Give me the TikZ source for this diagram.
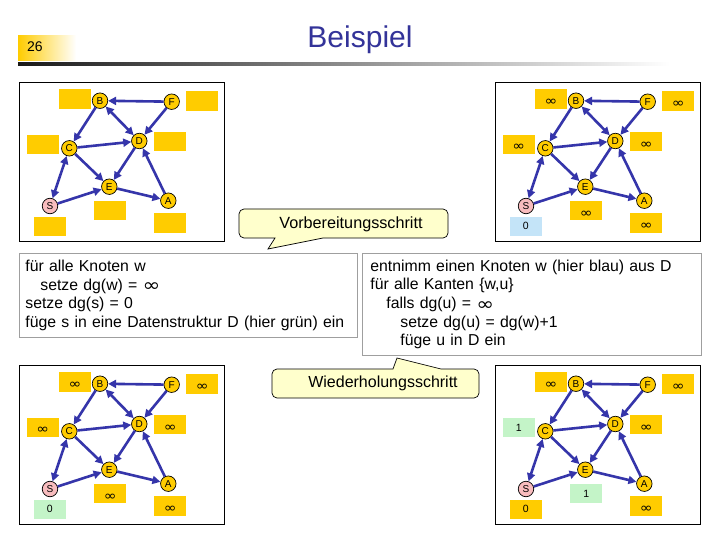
\documentclass[tikz,border=0pt]{standalone}
\usepackage{fontspec}
\usepackage{graphicx}
\setmainfont{Liberation Sans}
\newfontfamily\djv{DejaVu Sans}
\newcommand\infsym{\raisebox{-0.1em}{\scalebox{1.35}[1.15]{\djv ∞}}}
\newcommand\binf{\raisebox{-0.27em}{\scalebox{1.45}[1.25]{\djv ∞}}}
\usetikzlibrary{arrows.meta}
\definecolor{gold}{HTML}{FFCC00}
\definecolor{pinkS}{HTML}{F8BCBE}
\definecolor{lblue}{HTML}{C4E4F8}
\definecolor{lgreen}{HTML}{C4F4C8}
\definecolor{arrblue}{HTML}{3535AA}
\definecolor{titleblue}{HTML}{333399}
\definecolor{callfill}{HTML}{FFFFCC}
\tikzset{
  vnode/.style={circle, draw=black, line width=0.7pt, fill=gold, minimum size=15.5pt, inner sep=0pt, font=\fontsize{10}{10}\selectfont},
  snode/.style={vnode, fill=pinkS},
  vbox/.style={rectangle, fill=gold, minimum width=32pt, minimum height=19.5pt, inner sep=0pt, text height=7pt, text depth=0pt, font=\fontsize{10.5}{10.5}\selectfont},
  edge/.style={draw=arrblue, line width=2.6pt, -{Triangle[length=8pt,width=8pt]}},
  bedge/.style={draw=arrblue, line width=2.6pt, {Triangle[length=8pt,width=8pt]}-{Triangle[length=8pt,width=8pt]}},
  panelframe/.style={draw=black, line width=0.8pt},
  textbox/.style={draw=gray!75, line width=0.8pt, align=left, font=\fontsize{15.8}{18.6}\selectfont, inner ysep=0pt},
  callout/.style={draw=black, line width=0.7pt, fill=callfill},
}
\newcommand\graphpanel[3]{%
\begin{scope}[shift={(#2,#3)}]
  \draw[panelframe] (19,82) rectangle (224,241);
  \node[vnode] (#1B) at (100,100.7) {B};
  \node[vnode] (#1F) at (171.7,101.7) {F};
  \node[vnode] (#1D) at (139.3,141) {D};
  \node[vnode] (#1C) at (69.3,148.3) {C};
  \node[vnode] (#1E) at (109.3,186.7) {E};
  \node[vnode] (#1A) at (168.3,200.7) {A};
  \node[snode] (#1S) at (50,206) {S};
  \draw[edge] (#1F) -- (#1B);
  \draw[bedge] (#1B) -- (#1D);
  \draw[edge] (#1F) -- (#1D);
  \draw[edge] (#1B) -- (#1C);
  \draw[edge] (#1C) -- (#1D);
  \draw[edge] (#1C) -- (#1E);
  \draw[edge] (#1D) -- (#1E);
  \draw[edge] (#1A) -- (#1D);
  \draw[edge] (#1E) -- (#1A);
  \draw[edge] (#1S) -- (#1E);
  \draw[bedge] (#1C) -- (#1S);
\end{scope}}
\begin{document}
\begin{tikzpicture}[x=1pt,y=-1pt]
\useasboundingbox[fill=white] (0,0) rectangle (720,540);
% header
\shade[left color=gold, right color=white] (18,36) rectangle (76,61);
\node[anchor=center, font=\fontsize{14}{14}\selectfont] (num) at (35,47) {26};
\shade[left color=black!90, right color=white] (18,62.5) rectangle (670,66);
\node[font=\fontsize{30}{30}\selectfont, text=titleblue] (title) at (360,40) {Beispiel};

% panels
\graphpanel{tl}{0}{0}
\graphpanel{tr}{476}{0}
\graphpanel{bl}{0}{283}
\graphpanel{br}{476}{283}

% boxes top-left
\begin{scope}
  \node[vbox] (tlbB) at (75,99.2) {};
  \node[vbox] (tlbF) at (202.3,101.2) {};
  \node[vbox] (tlbC) at (42.8,144.5) {};
  \node[vbox] (tlbD) at (170.3,141.7) {};
  \node[vbox] (tlbE) at (110.3,210.7) {};
  \node[vbox] (tlbS) at (49.8,226.3) {};
  \node[vbox] (tlbA) at (170.3,223) {};
\end{scope}
% boxes top-right
\begin{scope}[shift={(476,0)}]
  \node[vbox] (trbB) at (75,99.2) {\binf};
  \node[vbox] (trbF) at (202.3,101.2) {\binf};
  \node[vbox] (trbC) at (42.8,144.5) {\binf};
  \node[vbox] (trbD) at (170.3,141.7) {\binf};
  \node[vbox] (trbE) at (110.3,210.7) {\binf};
  \node[vbox, fill=lblue] (trbS) at (49.8,226.3) {0};
  \node[vbox] (trbA) at (170.3,223) {\binf};
\end{scope}
% boxes bottom-left
\begin{scope}[shift={(0,283)}]
  \node[vbox] (blbB) at (75,99.2) {\binf};
  \node[vbox] (blbF) at (202.3,101.2) {\binf};
  \node[vbox] (blbC) at (42.8,144.5) {\binf};
  \node[vbox] (blbD) at (170.3,141.7) {\binf};
  \node[vbox] (blbE) at (110.3,210.7) {\binf};
  \node[vbox, fill=lgreen] (blbS) at (49.8,226.3) {0};
  \node[vbox] (blbA) at (170.3,223) {\binf};
\end{scope}
% boxes bottom-right
\begin{scope}[shift={(476,283)}]
  \node[vbox] (brbB) at (75,99.2) {\binf};
  \node[vbox] (brbF) at (202.3,101.2) {\binf};
  \node[vbox, fill=lgreen] (brbC) at (42.8,144.5) {1};
  \node[vbox] (brbD) at (170.3,141.7) {\binf};
  \node[vbox, fill=lgreen] (brbE) at (110.3,210.7) {1};
  \node[vbox] (brbS) at (49.8,226.3) {0};
  \node[vbox] (brbA) at (170.3,223) {\binf};
\end{scope}

% text boxes
\node[textbox, anchor=north west, minimum width=338pt, minimum height=84pt, text width=326pt, inner xsep=6pt] (init) at (19,253)
  {für alle Knoten w\\\hspace*{15pt}setze dg(w) = \infsym\\setze dg(s) = 0\\füge s in eine Datenstruktur D (hier grün) ein};
\node[textbox, anchor=north west, minimum width=339pt, minimum height=102pt, text width=323pt, inner xsep=8pt] (loop) at (362,253)
  {entnimm einen Knoten w (hier blau) aus D\\für alle Kanten \{w,u\}\\\hspace*{16pt}falls dg(u) = \infsym\\\hspace*{30pt}setze dg(u) = dg(w)+1\\\hspace*{30pt}füge u in D ein};

% callouts
\draw[callout] (268,249) -- (323,238) [rounded corners=5pt] -- (448,238) -- (448,209) -- (239,209) -- (239,238) [sharp corners] -- (275,238) -- cycle;
\node[font=\fontsize{16.2}{16.2}\selectfont] (vor) at (351,224) {Vorbereitungsschritt};
\draw[callout] (397,358) -- (393,369) [rounded corners=5pt] -- (272,369) -- (272,398) -- (479,398) -- (479,369) [sharp corners] -- (441,369) -- cycle;
\node[font=\fontsize{16}{16}\selectfont] (wied) at (383,383) {Wiederholungsschritt};
\end{tikzpicture}
\end{document}
